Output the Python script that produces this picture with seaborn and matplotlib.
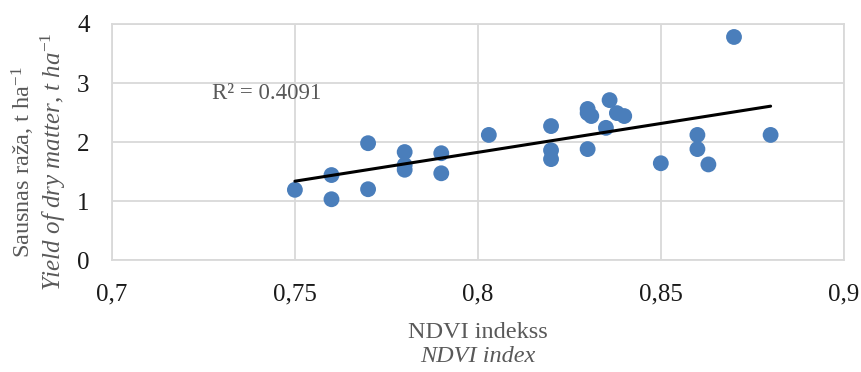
import numpy as np
import pandas as pd
import seaborn as sns
from matplotlib import pyplot as plt

# NDVI values and dry matter yield (t/ha)
ndvi = [0.75, 0.76, 0.76, 0.77, 0.77, 0.78, 0.78, 0.78, 0.79, 0.79,
        0.803, 0.82, 0.82, 0.82, 0.83, 0.83, 0.831, 0.83, 0.836, 0.838,
        0.84, 0.835, 0.85, 0.86, 0.86, 0.863, 0.87, 0.88]
yield_dm = [1.19, 1.44, 1.03, 1.98, 1.20, 1.83, 1.61, 1.53, 1.81, 1.47,
            2.12, 2.27, 1.86, 1.71, 2.56, 2.49, 2.44, 1.88, 2.71, 2.49,
            2.44, 2.24, 1.64, 2.12, 1.88, 1.62, 3.78, 2.12]
x_ticks = [0.7, 0.75, 0.8, 0.85, 0.9]
x_tick_labels = ["0,7", "0,75", "0,8", "0,85", "0,9"]
y_ticks = [0, 1, 2, 3, 4]
r2_label = "R² = 0.4091"

df = pd.DataFrame({"ndvi": ndvi, "yield": yield_dm})

sns.set_style("white")
plt.rcParams['font.family'] = ['Liberation Serif', 'DejaVu Serif']
plt.rcParams['mathtext.fontset'] = 'custom'
plt.rcParams['mathtext.rm'] = 'Liberation Serif'
plt.rcParams['mathtext.it'] = 'Liberation Serif:italic'

fig = plt.figure(figsize=(8.61, 3.72), dpi=100)
ax = fig.add_axes([0.130, 0.301, 0.850, 0.6345])

grid_col = "#d9d9d9"
label_col = "#595959"

sns.regplot(data=df, x="ndvi", y="yield", ax=ax, ci=None, truncate=True,
            scatter_kws={"s": 130, "color": "#4a7ebb", "edgecolor": "none",
                         "alpha": 1, "zorder": 3},
            line_kws={"color": "black", "linewidth": 2.2, "zorder": 4})

ax.set_xlim(0.7, 0.9)
ax.set_ylim(0, 4)
ax.set_xticks(x_ticks)
ax.set_xticklabels(x_tick_labels)
ax.set_yticks(y_ticks)
ax.grid(True, color=grid_col, linewidth=1.3)
ax.set_axisbelow(True)
for s in ax.spines.values():
    s.set_color(grid_col)
    s.set_linewidth(1.3)
ax.tick_params(axis="both", length=0, labelsize=18, colors="#1a1a1a")
ax.tick_params(axis="x", pad=17)
ax.tick_params(axis="y", pad=16)
ax.set_xlabel("")
ax.set_ylabel("")

ax.text(0.7273, 2.83, r2_label, fontsize=16.5, color=label_col, va="center", ha="left")

fig.text(0.555, 1 - 332 / 372, "NDVI indekss", fontsize=17.5, color=label_col,
         ha="center", va="center")
fig.text(0.555, 1 - 357 / 372, "NDVI index", fontsize=17.5, color=label_col,
         ha="center", va="center", style="italic")
fig.text(0.027, 0.565, r"Sausnas raža, t ha$^{\mathregular{-1}}$", fontsize=17.5,
         color=label_col, ha="center", va="center", rotation=90)
fig.text(0.062, 0.565, r"Yield of dry matter, t ha$^{\mathit{-1}}$", fontsize=18,
         color=label_col, ha="center", va="center", rotation=90, style="italic")

fig.savefig("out.png", dpi=100)
